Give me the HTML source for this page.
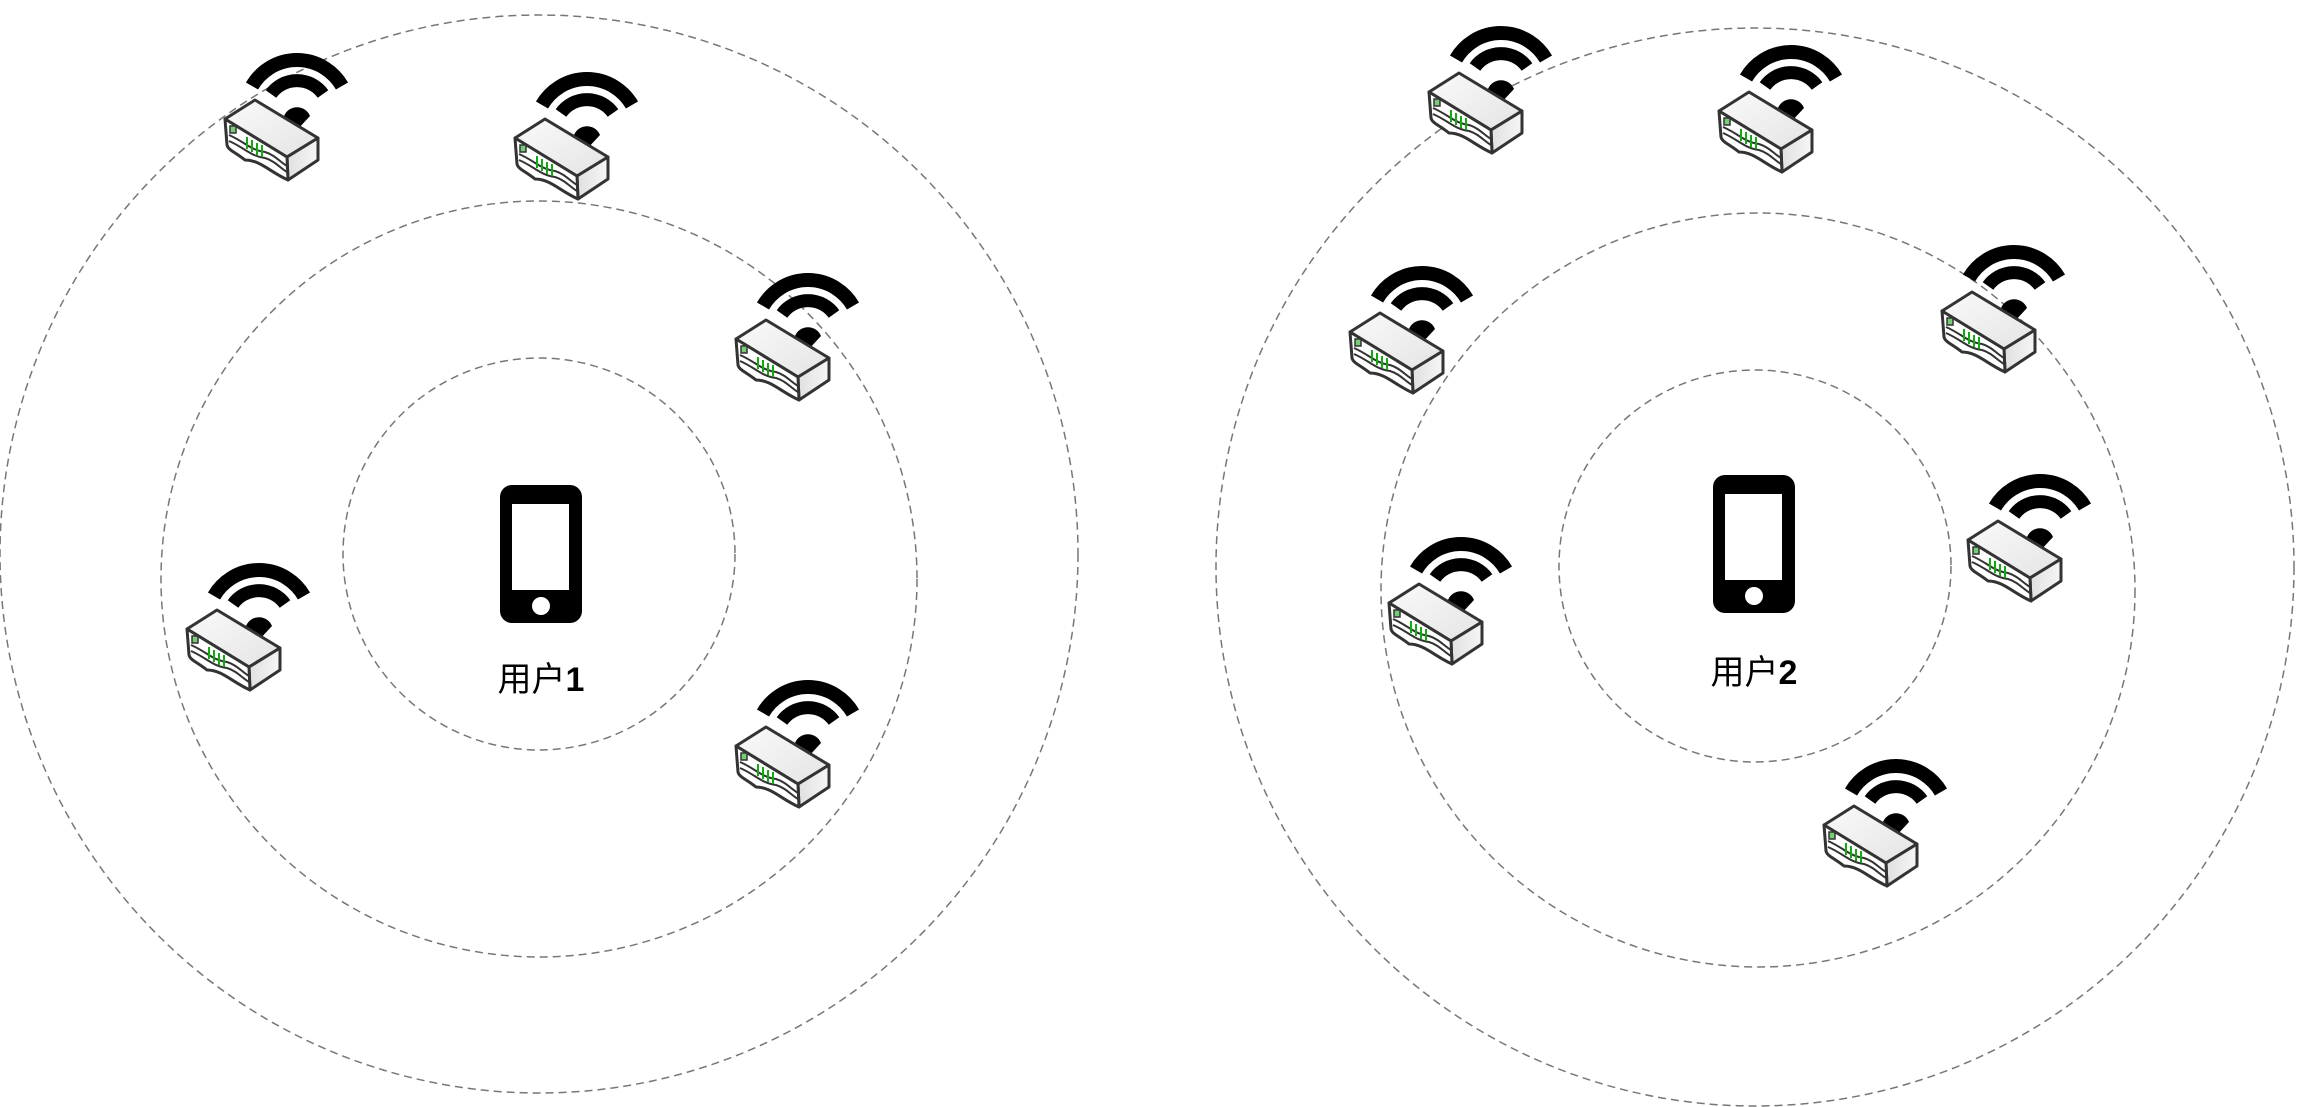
<!DOCTYPE html>
<html><head><meta charset="utf-8"><style>
html,body{margin:0;padding:0;background:#fff;}
svg{display:block;}
</style></head><body>
<svg id="chart" width="2297" height="1107" viewBox="0 0 2297 1107" xmlns="http://www.w3.org/2000/svg">
<defs>
<linearGradient id="topg" x1="0" y1="0" x2="1" y2="1"><stop offset="0" stop-color="#fafafa"/><stop offset="1" stop-color="#e4e4e4"/></linearGradient>
<linearGradient id="rg" x1="0" y1="0" x2="1" y2="0"><stop offset="0" stop-color="#e0e0e0"/><stop offset="1" stop-color="#f6f6f6"/></linearGradient>
<g id="router">
  <path d="M32,44 A52,52 0 0 1 122,44" fill="none" stroke="#000" stroke-width="14"/>
  <path d="M51,52 A32,32 0 0 1 103,52" fill="none" stroke="#000" stroke-width="13"/>
  <path d="M64,74 A14,14 0 0 1 90,74 L77,88 Z" fill="#000"/>
  <polygon points="5,77 35,58 98,96 67,115" fill="url(#topg)" stroke="#333" stroke-width="3" stroke-linejoin="round"/>
  <polygon points="67,115 98,96 98,118 68,138" fill="url(#rg)" stroke="#333" stroke-width="3" stroke-linejoin="round"/>
  <path d="M5,77 L67,115 L68,138 C50,130 40,118 25,118 C15,110 8,108 7,103 Z" fill="#fff" stroke="#333" stroke-width="3" stroke-linejoin="round"/>
  <path d="M9,93 C25,100 30,108 45,110 C55,113 60,120 67,124" fill="none" stroke="#333" stroke-width="2"/>
  <path d="M9,99 C25,106 30,114 45,116 C55,119 60,126 67,130" fill="none" stroke="#333" stroke-width="2"/>
  <rect x="10" y="84" width="6" height="7" fill="#7c7" stroke="#333" stroke-width="1.5"/>
  <path d="M27,95 v12 M32,98 v12 M37,101 v12 M42,103 v12" stroke="#1a1" stroke-width="2"/>
</g>
<g id="phone">
  <rect x="0" y="0" width="82" height="138" rx="12" fill="#000"/>
  <rect x="12" y="19" width="57" height="86" fill="#fff"/>
  <circle cx="41" cy="121" r="9" fill="#fff"/>
</g>
</defs>
<g id="rings" fill="none" stroke="#777" stroke-width="1.5" stroke-dasharray="8 5"></g>
<g id="icons"></g>
<text x="541" y="691" text-anchor="middle" font-size="34" font-family="Liberation Sans, Noto Sans CJK SC, sans-serif" fill="#000">用户<tspan font-weight="bold">1</tspan></text>
<text x="1754" y="684" text-anchor="middle" font-size="34" font-family="Liberation Sans, Noto Sans CJK SC, sans-serif" fill="#000">用户<tspan font-weight="bold">2</tspan></text>
</svg>
<script>
const ringCentersX=[539,539,539,1755,1758,1755];
const ringCentersY=[554,579,554,566,590,567];
const ringRadii=[196,378,539,196,377,539];
const phoneX=[500,1713];
const phoneY=[485,475];
const routerX=[223,513,734,185,734,1427,1717,1348,1940,1387,1966,1822];
const routerY=[48,67,268,558,675,21,40,261,240,532,469,754];
const NS='http://www.w3.org/2000/svg';
const rings=document.getElementById('rings');
for(let i=0;i<ringRadii.length;i++){
  const el=document.createElementNS(NS,'circle');
  el.setAttribute('cx',ringCentersX[i]);el.setAttribute('cy',ringCentersY[i]);el.setAttribute('r',ringRadii[i]);
  
  
  rings.appendChild(el);
}
const icons=document.getElementById('icons');
for(let i=0;i<routerX.length;i++){
  const u=document.createElementNS(NS,'use');
  u.setAttribute('href','#router');
  u.setAttribute('transform','translate('+(routerX[i]-3)+','+(routerY[i]-6)+')');
  
  
  icons.appendChild(u);
}
for(let i=0;i<phoneX.length;i++){
  const u=document.createElementNS(NS,'use');
  u.setAttribute('href','#phone');
  u.setAttribute('transform','translate('+phoneX[i]+','+phoneY[i]+')');
  
  
  icons.appendChild(u);
}
</script>
</body></html>
